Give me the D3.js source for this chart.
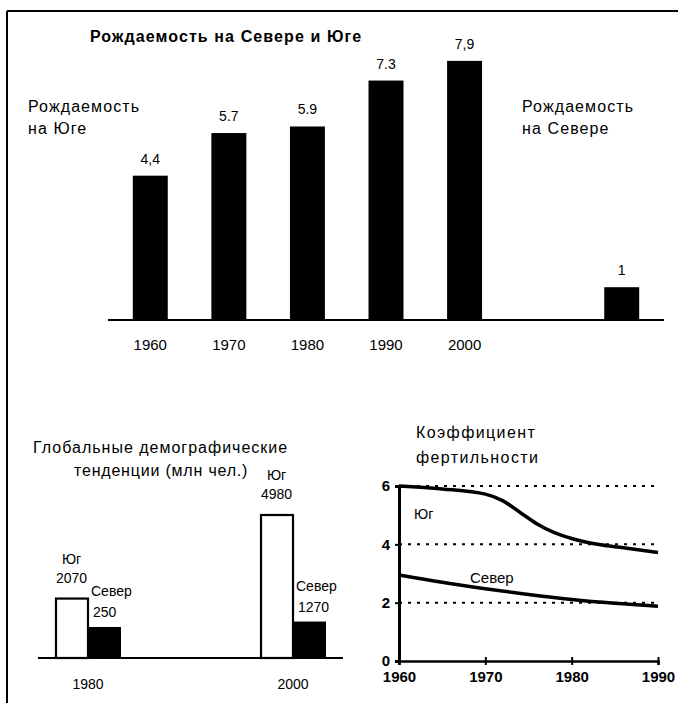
<!DOCTYPE html>
<html><head><meta charset="utf-8">
<script src="https://cdn.jsdelivr.net/npm/d3@7"></script>
<style>
html,body{margin:0;padding:0;background:#fff;}
svg{display:block;font-family:'Liberation Sans',Arial,sans-serif;}
</style></head>
<body>
<svg id="c" width="678" height="703"></svg>
<script>
// ---- Top chart: birth rate South / North ----
const topCategories = ["1960","1970","1980","1990","2000","gap","North"];
const topValues = [4.4, 5.7, 5.9, 7.3, 7.9, null, 1];
const topValueLabels = ["4,4","5.7","5.9","7.3","7,9","","1"];
const topTickLabels = ["1960","1970","1980","1990","2000","",""];
const topTitle = "Рождаемость на Севере и Юге";
const southLabel = ["Рождаемость","на Юге"];
const northLabel = ["Рождаемость","на Севере"];

// ---- Bottom-left: global demographic trends (mln) ----
const popYears = ["1980","2000"];
const popSeries = ["Юг","Север"];
const popSouth = [2070, 4980];           // bar heights
const popNorth = [1080, 1270];           // bar heights as drawn
const popSouthLabels = ["2070","4980"];
const popNorthLabels = ["250","1270"];
const popTitle = ["Глобальные демографические","тенденции (млн чел.)"];

// ---- Bottom-right: fertility rate ----
const fertSouthYears = [1960,1965,1970,1972,1974,1976,1978,1980,1983,1986,1990];
const fertSouth = [6.0,5.9,5.72,5.5,5.1,4.7,4.4,4.2,4.0,3.88,3.72];
const fertNorthYears = [1960,1965,1970,1975,1980,1985,1990];
const fertNorth = [2.95,2.7,2.48,2.28,2.11,1.98,1.88];
const fertXTicks = [1960,1970,1980,1990];
const fertYTicks = [0,2,4,6];
const fertGrid = [2,4,6];
const fertTitle = ["Коэффициент","фертильности"];

const svg = d3.select("#c");

// frame
svg.append("line").attr("x1",7).attr("x2",678).attr("y1",11).attr("y2",11).attr("stroke","#000").attr("stroke-width",2);
svg.append("line").attr("x1",7).attr("x2",7).attr("y1",11).attr("y2",703).attr("stroke","#000").attr("stroke-width",2);

const txt = (g, x, y, s, size, opts={}) => g.append("text").attr("x",x).attr("y",y)
  .attr("font-size",size).attr("font-weight",opts.bold?"bold":"normal")
  .attr("text-anchor",opts.anchor||"start").attr("letter-spacing",opts.ls||0)
  .attr("fill","#000").text(s);

// ===== Top chart =====
{
  const g = svg.append("g");
  const x = d3.scaleBand().domain(topCategories).range([111, 661]).paddingInner(0.555).paddingOuter(0.2775);
  const y = d3.scaleLinear().domain([0, 8]).range([320, 57.6]);
  const data = topCategories.map((c,i)=>({c, v:topValues[i], lab:topValueLabels[i], tick:topTickLabels[i]}));
  g.selectAll("rect").data(data.filter(d=>d.v!=null)).join("rect")
    .attr("x",d=>x(d.c)).attr("width",x.bandwidth())
    .attr("y",d=>y(d.v)).attr("height",d=>y(0)-y(d.v)).attr("fill","#000");
  g.append("line").attr("x1",108).attr("x2",664).attr("y1",y(0)).attr("y2",y(0)).attr("stroke","#000").attr("stroke-width",2);
  g.selectAll("text.v").data(data.filter(d=>d.v!=null)).join("text").attr("class","v")
    .attr("x",d=>x(d.c)+x.bandwidth()/2).attr("y",d=>y(d.v)-12)
    .attr("text-anchor","middle").attr("font-size",14).text(d=>d.lab);
  g.selectAll("text.t").data(data.filter(d=>d.tick)).join("text").attr("class","t")
    .attr("x",d=>x(d.c)+x.bandwidth()/2).attr("y",350)
    .attr("text-anchor","middle").attr("font-size",15).text(d=>d.tick);
  txt(g, 90, 42, topTitle, 16, {bold:true, ls:1.1});
  txt(g, 28, 112, southLabel[0], 16, {ls:1.1});
  txt(g, 28, 134, southLabel[1], 16, {ls:1.1});
  txt(g, 522, 112, northLabel[0], 16, {ls:1.1});
  txt(g, 522, 134, northLabel[1], 16, {ls:1.1});
}

// ===== Bottom-left chart =====
{
  const g = svg.append("g");
  const gx = d3.scalePoint().domain(popYears).range([88, 293]);
  const sx = d3.scaleBand().domain(popSeries).range([-33, 33]);
  const y = d3.scaleLinear().domain([0, 4980]).range([658, 515]);
  const rows = popYears.map((yr,i)=>({yr, s:popSouth[i], n:popNorth[i], sl:popSouthLabels[i], nl:popNorthLabels[i]}));
  g.selectAll("rect.s").data(rows).join("rect").attr("class","s")
    .attr("x",d=>gx(d.yr)+sx("Юг")+1).attr("width",sx.bandwidth()-1)
    .attr("y",d=>y(d.s)).attr("height",d=>y(0)-y(d.s))
    .attr("fill","#fff").attr("stroke","#000").attr("stroke-width",2.2);
  g.selectAll("rect.n").data(rows).join("rect").attr("class","n")
    .attr("x",d=>gx(d.yr)+sx("Север")).attr("width",sx.bandwidth())
    .attr("y",d=>y(d.n)).attr("height",d=>y(0)-y(d.n)).attr("fill","#000");
  g.append("line").attr("x1",38).attr("x2",343).attr("y1",y(0)).attr("y2",y(0)).attr("stroke","#000").attr("stroke-width",2);
  rows.forEach(d=>{
    const cx = gx(d.yr)+sx("Юг")+sx.bandwidth()/2;
    txt(g, cx, y(d.s)-35, popSeries[0], 14, {anchor:"middle"});
    txt(g, cx, y(d.s)-16, d.sl, 14, {anchor:"middle"});
    const nx = gx(d.yr)+sx("Север")+3;
    txt(g, nx, y(d.n)-31, popSeries[1], 14);
    txt(g, nx+2, y(d.n)-10, d.nl, 14);
    txt(g, gx(d.yr), 689, d.yr, 14, {anchor:"middle"});
  });
  txt(g, 33, 453, popTitle[0], 16, {ls:1.0});
  txt(g, 74, 476, popTitle[1], 16, {ls:0.8});
}

// ===== Bottom-right chart =====
{
  const g = svg.append("g");
  const x = d3.scaleLinear().domain([1960, 1990]).range([399, 658]);
  const y = d3.scaleLinear().domain([0, 6]).range([661, 486]);
  g.selectAll("line.grid").data(fertGrid).join("line").attr("class","grid")
    .attr("x1",x(1960)).attr("x2",x(1990)).attr("y1",d=>y(d)).attr("y2",d=>y(d))
    .attr("stroke","#000").attr("stroke-width",2).attr("stroke-dasharray","3,6");
  const xa = g.append("g").attr("transform",`translate(0,${y(0)})`)
    .call(d3.axisBottom(x).tickValues(fertXTicks).tickFormat(d3.format("d")).tickSize(4).tickPadding(6));
  xa.select(".domain").attr("stroke-width",2.5);
  xa.selectAll(".tick line").attr("y1",-4).attr("y2",4).attr("stroke-width",2);
  xa.selectAll("text").attr("font-size",15).attr("font-weight","bold").attr("font-family","'Liberation Sans',Arial,sans-serif");
  const ya = g.append("g").attr("transform",`translate(${x(1960)},0)`)
    .call(d3.axisLeft(y).tickValues(fertYTicks).tickFormat(d3.format("d")).tickSize(4).tickPadding(5));
  ya.select(".domain").attr("stroke-width",3);
  ya.selectAll(".tick line").attr("stroke-width",2);
  ya.selectAll("text").attr("font-size",15).attr("font-weight","bold").attr("font-family","'Liberation Sans',Arial,sans-serif");
  const line = d3.line().x(d=>x(d[0])).y(d=>y(d[1])).curve(d3.curveMonotoneX);
  g.append("path").datum(fertSouthYears.map((yr,i)=>[yr,fertSouth[i]])).attr("d",line)
    .attr("fill","none").attr("stroke","#000").attr("stroke-width",3.5);
  g.append("path").datum(fertNorthYears.map((yr,i)=>[yr,fertNorth[i]])).attr("d",line)
    .attr("fill","none").attr("stroke","#000").attr("stroke-width",3.5);
  txt(g, 414, 519, "Юг", 14);
  txt(g, 470, 583, "Север", 15);
  txt(g, 416, 438, fertTitle[0], 16, {ls:1.4});
  txt(g, 416, 463, fertTitle[1], 16, {ls:1.4});
}
</script>
</body></html>
